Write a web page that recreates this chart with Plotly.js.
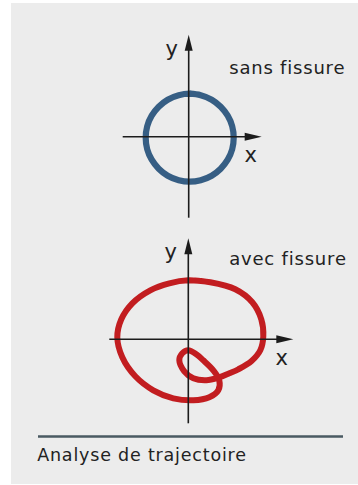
<!DOCTYPE html>
<html>
<head>
<meta charset="utf-8">
<script src="https://cdn.plot.ly/plotly-3.0.1.min.js"></script>
<style>
  html, body { margin: 0; padding: 0; background: #ffffff; }
  #chart { width: 358px; height: 485px; }
  #chart .annotation-text { letter-spacing: 0.8px; }
</style>
</head>
<body>
<div id="chart"></div>
<script>
// ---- Data (units: orbit displacement, origin at axis crossing) ----
const panelTitles = ["sans fissure", "avec fissure"];
const axisLabelX = "x";
const axisLabelY = "y";
const caption = "Analyse de trajectoire";

// Orbit without crack (near-circular), traced clockwise from the top
const sansX = [1, 12, 23, 32, 39, 43.5, 45, 43.5, 39, 32, 23, 12, 1, -10, -21, -30, -37, -41.5, -43, -41.5, -37, -30, -21, -10, 1, 12];
const sansY = [43, 41.5, 37, 30, 21, 10.5, -1, -12.5, -23, -32, -39, -43.5, -45, -43.5, -39, -32, -23, -12.5, -1, 10.5, 21, 30, 37, 41.5, 43, 41.5];

// Orbit with crack (outer loop + inner loop)
const avecX = [0, 22, 47, 64, 73, 75, 72, 63, 50, 41, 31, 18, 5, -4, -9, -6, 0, 8, 15, 25, 31, 30, 21, 5, -15, -35, -53, -66, -71, -67, -56, -38, -19, 0, 22];
const avecY = [59, 57, 50, 37, 20, 3, -11, -22, -30, -34, -38, -41, -39, -32, -21, -14, -11, -15, -21, -31, -41, -51, -58, -61, -59, -51, -37, -18, 2, 20, 36, 49, 56, 59, 57];

// ---- Layout geometry (pixels) ----
const W = 358, H = 485;
const panelA = { ox: 188.7, oy: 136.7, px0: 100, px1: 300, py0: 20, py1: 230,
                 xa: [-66, 73], ya: [-81, 102] };
const panelB = { ox: 188.3, oy: 339.3, px0: 90, px1: 310, py0: 230, py1: 430,
                 xa: [-79, 105], ya: [-84, 101] };

function dom(p) {
  return {
    xd: [p.px0 / W, p.px1 / W],
    yd: [1 - p.py1 / H, 1 - p.py0 / H],
    xr: [p.px0 - p.ox, p.px1 - p.ox],
    yr: [p.oy - p.py1, p.oy - p.py0]
  };
}
const d1 = dom(panelA), d2 = dom(panelB);

const FONT = "DejaVu Sans, Arial, sans-serif";
const TXT = "#222222";
const AX = "#1c1c1c";

const traces = [
  { x: sansX, y: sansY, xaxis: "x", yaxis: "y", mode: "lines",
    line: { color: "#365e84", width: 6.2, shape: "spline", smoothing: 1 },
    hoverinfo: "skip", showlegend: false },
  { x: avecX, y: avecY, xaxis: "x2", yaxis: "y2", mode: "lines",
    line: { color: "#c21d20", width: 6, shape: "spline", smoothing: 1 },
    hoverinfo: "skip", showlegend: false }
];

function axisShapes(p, xr, yr) {
  return [
    { type: "line", xref: xr, yref: yr, x0: p.xa[0], x1: p.xa[1] - 8, y0: 0, y1: 0,
      line: { color: AX, width: 1.6 } },
    { type: "line", xref: xr, yref: yr, x0: 0, x1: 0, y0: p.ya[0], y1: p.ya[1] - 8,
      line: { color: AX, width: 1.6 } },
    { type: "path", xref: xr, yref: yr, xsizemode: "pixel", ysizemode: "pixel",
      xanchor: p.xa[1], yanchor: 0, path: "M0,0L-17,4L-17,-4Z",
      fillcolor: AX, line: { width: 0 } },
    { type: "path", xref: xr, yref: yr, xsizemode: "pixel", ysizemode: "pixel",
      xanchor: 0, yanchor: p.ya[1], path: "M0,0L-4,-16L4,-16Z",
      fillcolor: AX, line: { width: 0 } }
  ];
}

const shapes = [
  { type: "rect", xref: "paper", yref: "paper", layer: "below",
    x0: 11 / W, x1: 1, y0: 1 - 484 / H, y1: 1 - 3 / H,
    fillcolor: "#ececec", line: { width: 0 } },
  { type: "line", xref: "paper", yref: "paper",
    x0: 38 / W, x1: 343 / W, y0: 1 - 436.5 / H, y1: 1 - 436.5 / H,
    line: { color: "#4a5a62", width: 2.5 } }
].concat(axisShapes(panelA, "x", "y"), axisShapes(panelB, "x2", "y2"));

function lab(text, xr, yr, x, y, size, xanchor) {
  return { text: text, xref: xr, yref: yr, x: x, y: y, showarrow: false,
           xanchor: xanchor || "center", yanchor: "middle",
           font: { family: FONT, size: size, color: TXT } };
}

const annotations = [
  lab(axisLabelY, "x", "y", -16.5, 88, 21),
  lab(axisLabelX, "x", "y", 62, -18, 21),
  lab(panelTitles[0], "x", "y", 43, 69, 18, "left"),
  lab(axisLabelY, "x2", "y2", -17, 87, 21),
  lab(axisLabelX, "x2", "y2", 94, -19, 21),
  lab(panelTitles[1], "x2", "y2", 43.5, 81, 18, "left"),
  { text: caption, xref: "paper", yref: "paper", x: 44 / W, y: 1 - 455 / H,
    showarrow: false, xanchor: "left", yanchor: "middle",
    font: { family: FONT, size: 17.5, color: TXT } }
];

const hidden = { visible: false, fixedrange: true };
const layout = {
  width: W, height: H, autosize: false,
  margin: { l: 0, r: 0, t: 0, b: 0, pad: 0 },
  paper_bgcolor: "#ffffff", plot_bgcolor: "rgba(0,0,0,0)",
  showlegend: false,
  xaxis: Object.assign({ domain: d1.xd, range: d1.xr }, hidden),
  yaxis: Object.assign({ domain: d1.yd, range: d1.yr }, hidden),
  xaxis2: Object.assign({ domain: d2.xd, range: d2.xr, anchor: "y2" }, hidden),
  yaxis2: Object.assign({ domain: d2.yd, range: d2.yr, anchor: "x2" }, hidden),
  shapes: shapes,
  annotations: annotations
};

Plotly.newPlot("chart", traces, layout, { staticPlot: true, displayModeBar: false });
</script>
</body>
</html>
